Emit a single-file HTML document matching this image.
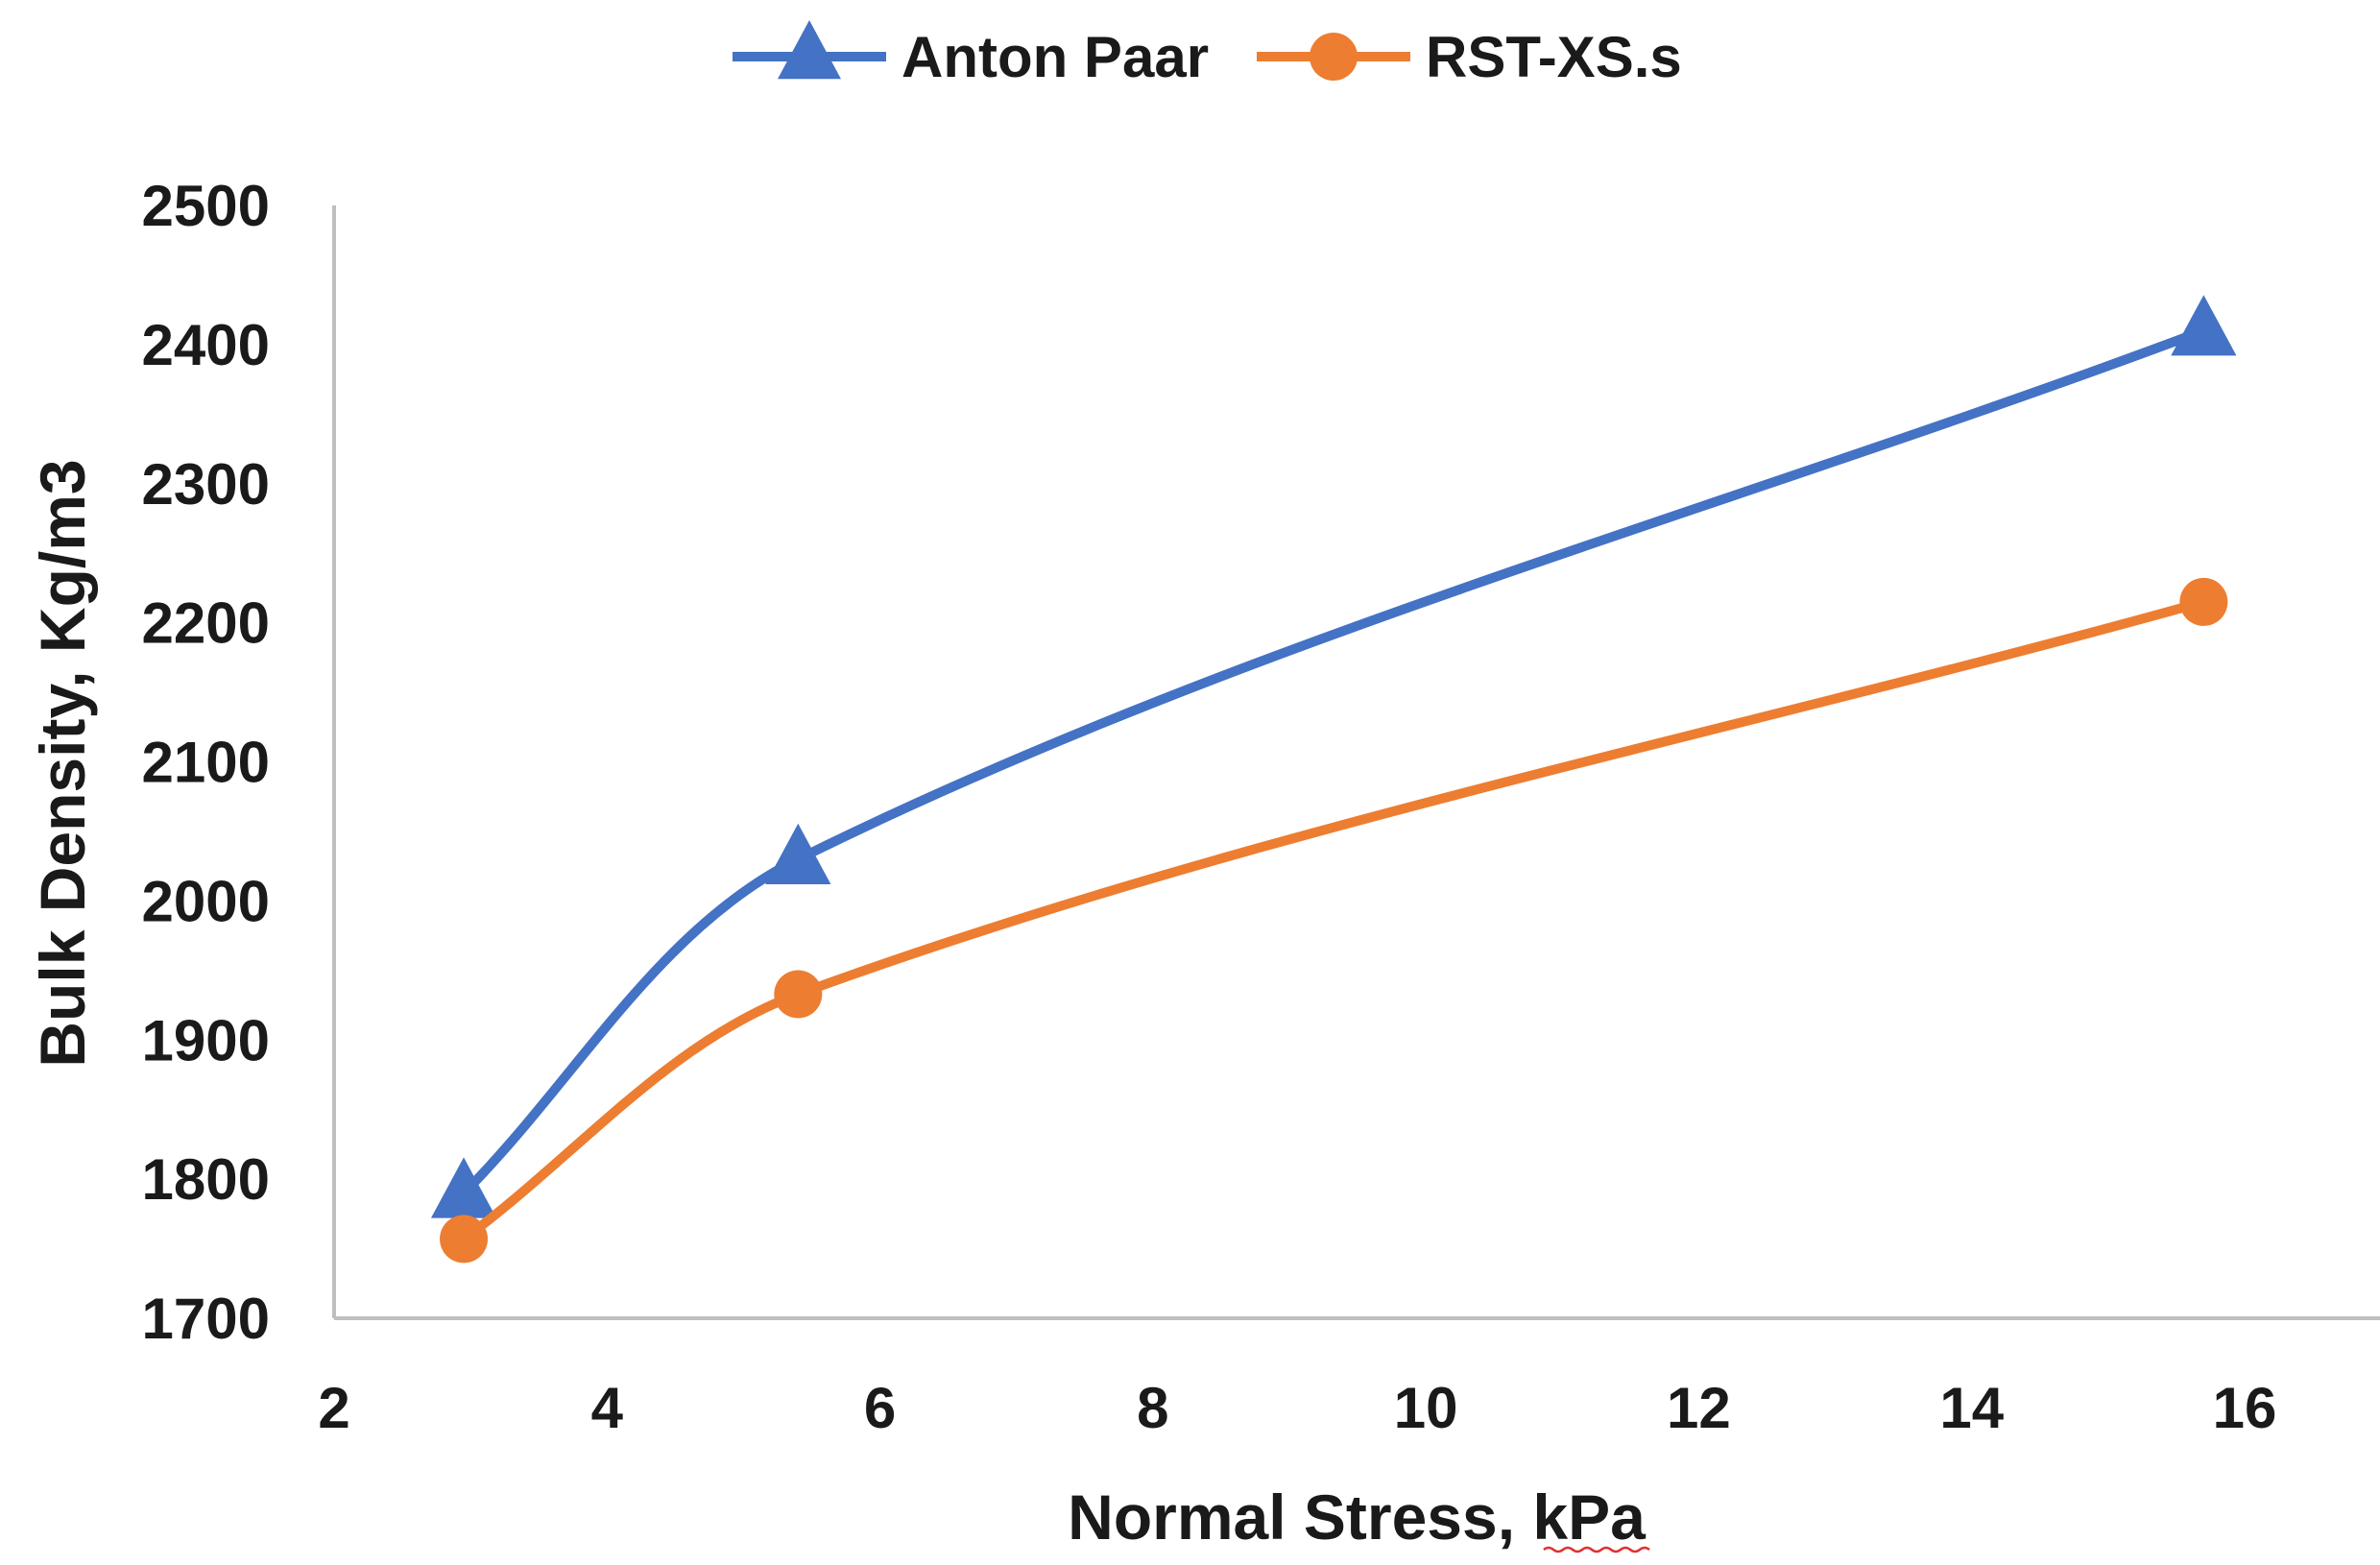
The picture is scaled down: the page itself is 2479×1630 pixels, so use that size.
<!DOCTYPE html>
<html><head><meta charset="utf-8"><style>
html,body{margin:0;padding:0;background:#fff;}
svg{display:block;}
text{font-family:"Liberation Sans",sans-serif;font-weight:bold;fill:#1a1a1a;}
</style></head><body>
<svg id="chart" width="2479" height="1630" viewBox="0 0 2479 1630" xmlns="http://www.w3.org/2000/svg">
<g id="axes"></g><g id="series"></g><g id="legend"></g>
</svg>
<script>
const xTicks = [2,4,6,8,10,12,14,16];
const yTicks = [1700,1800,1900,2000,2100,2200,2300,2400,2500];
const stress = [2.95, 5.4, 15.7];
const antonPaar = [1790, 2030, 2410];
const rstXS = [1757, 1933, 2215];
const seriesNames = ["Anton Paar", "RST-XS.s"];

const NS = "http://www.w3.org/2000/svg";
const X0 = 348, X16 = 2338, YTOP = 214, YBOT = 1373;
function xs(v){ return X0 + (v-2)*(X16-X0)/14; }
function ys(v){ return YBOT - (v-1700)*(YBOT-YTOP)/800; }
function mk(tag, attrs, parent){ const e=document.createElementNS(NS,tag); for(const k in attrs) e.setAttribute(k,attrs[k]); parent.appendChild(e); return e; }
const axes=document.getElementById('axes'), ser=document.getElementById('series'), leg=document.getElementById('legend');

let el = mk('line',{x1:X0,y1:YTOP,x2:X0,y2:YBOT,stroke:'#bfbfbf','stroke-width':4},axes);


el = mk('line',{x1:X0,y1:YBOT,x2:2479,y2:YBOT,stroke:'#bfbfbf','stroke-width':4},axes);



yTicks.forEach(t=>{
  const e = mk('text',{x:281,y:ys(t)+21,'text-anchor':'end','font-size':60},axes);
  e.textContent=t;
  
  
});
xTicks.forEach(t=>{
  const e = mk('text',{x:xs(t),y:1487,'text-anchor':'middle','font-size':60},axes);
  e.textContent=t;
  
  
});
el = mk('text',{x:1413,y:1603,'text-anchor':'middle','font-size':66},axes);
el.textContent='Normal Stress, kPa';


mk('path',{d:'M1608 1614 q5 -4 10 0 t10 0 t10 0 t10 0 t10 0 t10 0 t10 0 t10 0 t10 0 t10 0 t10 0',stroke:'#e03030','stroke-width':2.5,fill:'none'},axes);
el = mk('text',{x:0,y:0,'text-anchor':'middle','font-size':66,transform:'translate(88,795) rotate(-90)'},axes);
el.textContent='Bulk Density, Kg/m3';



function unit(a,b){ const dx=b[0]-a[0], dy=b[1]-a[1], l=Math.hypot(dx,dy)||1; return [dx/l,dy/l]; }
function smooth(pts){
  let d=`M${pts[0][0]} ${pts[0][1]}`;
  for(let i=0;i<pts.length-1;i++){
    const p0=pts[i-1]||pts[i], p1=pts[i], p2=pts[i+1], p3=pts[i+2]||p2;
    const L=Math.hypot(p2[0]-p1[0],p2[1]-p1[1])/3;
    const t1=unit(p0,p2), t2=unit(p1,p3);
    const c1=[p1[0]+t1[0]*L, p1[1]+t1[1]*L];
    const c2=[p2[0]-t2[0]*L, p2[1]-t2[1]*L];
    d+=` C${c1[0]} ${c1[1]} ${c2[0]} ${c2[1]} ${p2[0]} ${p2[1]}`;
  }
  return d;
}
function tri(cx,cy,s){ return `${cx},${cy-s*0.6} ${cx-s*0.55},${cy+s*0.42} ${cx+s*0.55},${cy+s*0.42}`; }

function drawSeries(vals,color,marker,name){
  const pts = stress.map((x,i)=>[xs(x),ys(vals[i])]);
  const p = mk('path',{d:smooth(pts),stroke:color,'stroke-width':10,fill:'none','stroke-linecap':'round'},ser);
  
  
  pts.forEach(pt=>{
    const m = marker==='tri' ? mk('polygon',{points:tri(pt[0],pt[1],62),fill:color},ser)
                             : mk('circle',{cx:pt[0],cy:pt[1],r:25,fill:color},ser);
    
    
  });
}
drawSeries(antonPaar,'#4472c4','tri','anton-paar');
drawSeries(rstXS,'#ed7d31','circ','rst-xs');

function legendEntry(x,color,marker,label,name){
  const g = mk('g',{},leg);
  
  
  mk('line',{x1:x,y1:59,x2:x+160,y2:59,stroke:color,'stroke-width':10},g);
  if(marker==='tri') mk('polygon',{points:tri(x+80,57,60),fill:color},g);
  else mk('circle',{cx:x+80,cy:59,r:25,fill:color},g);
  const t = mk('text',{x:x+176,y:80,'font-size':60},g);
  t.textContent=label;
}
legendEntry(763,'#4472c4','tri',seriesNames[0],'legend-entry-anton-paar');
legendEntry(1309,'#ed7d31','circ',seriesNames[1],'legend-entry-rst-xs');
</script>
</body></html>
